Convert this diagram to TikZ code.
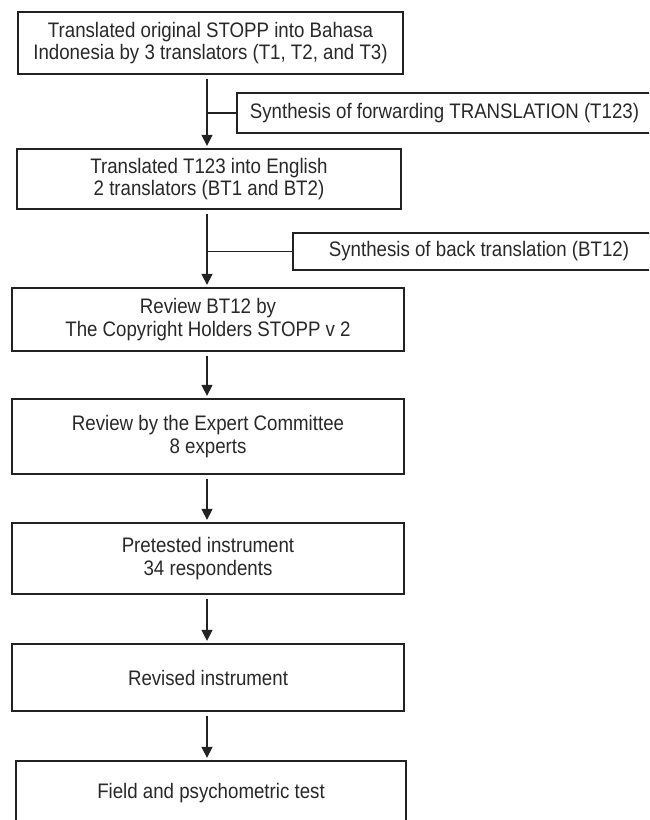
\documentclass[tikz,border=0pt]{standalone}
\usepackage{fontspec}
\setmainfont[FakeStretch=0.89]{Liberation Sans}
\usetikzlibrary{arrows.meta}
\definecolor{ink}{RGB}{34,34,34}
\definecolor{txt}{RGB}{40,40,40}
\tikzset{
  box/.style={draw=ink, line width=1.3pt, rectangle, inner sep=0pt, align=center,
    text=txt, font=\fontsize{21}{22.5}\selectfont},
  conn/.style={draw=ink, line width=1.3pt},
  arr/.style={conn, -{Triangle[length=11pt,width=11pt]}, shorten >=2.5pt, shorten <=4pt},
}
\begin{document}
\begin{tikzpicture}[x=1pt,y=-1pt]
\useasboundingbox (0,0) rectangle (649,820);
\clip (0,0) rectangle (649,820);
\coordinate (sp) at (207,0);
\node[box, minimum width=385pt, minimum height=62pt] (b1) at (210.5,43)
  {Translated original STOPP into Bahasa\\Indonesia by 3 translators (T1, T2, and T3)};
\node[box, minimum width=415pt, minimum height=40pt] (s1) at (444.5,113)
  {Synthesis of forwarding TRANSLATION (T123)};
\node[box, minimum width=384pt, minimum height=60pt] (b2) at (209,179)
  {Translated T123 into English\\2 translators (BT1 and BT2)};
\node[box, minimum width=372pt, minimum height=37pt] (s2) at (479,251.5)
  {Synthesis of back translation (BT12)};
\node[box, minimum width=392pt, minimum height=63pt] (b3) at (208,319.5)
  {Review BT12 by\\The Copyright Holders STOPP v 2};
\node[box, minimum width=392pt, minimum height=75pt] (b4) at (208,436.5)
  {Review by the Expert Committee\\8 experts};
\node[box, minimum width=392pt, minimum height=71pt] (b5) at (208,558.5)
  {Pretested instrument\\34 respondents};
\node[box, minimum width=392pt, minimum height=67pt] (b6) at (208,677.5)
  {Revised instrument};
\node[box, minimum width=390pt, minimum height=64pt] (b7) at (211,793)
  {Field and psychometric test};
\draw[arr] (b1.south -| sp) -- (b2.north -| sp);
\draw[conn] (s1.west) -- (s1.west -| sp);
\draw[arr] (b2.south -| sp) -- (b3.north -| sp);
\draw[conn] (s2.west) -- (s2.west -| sp);
\draw[arr] (b3.south -| sp) -- (b4.north -| sp);
\draw[arr] (b4.south -| sp) -- (b5.north -| sp);
\draw[arr] (b5.south -| sp) -- (b6.north -| sp);
\draw[arr] (b6.south -| sp) -- (b7.north -| sp);
\end{tikzpicture}
\end{document}
